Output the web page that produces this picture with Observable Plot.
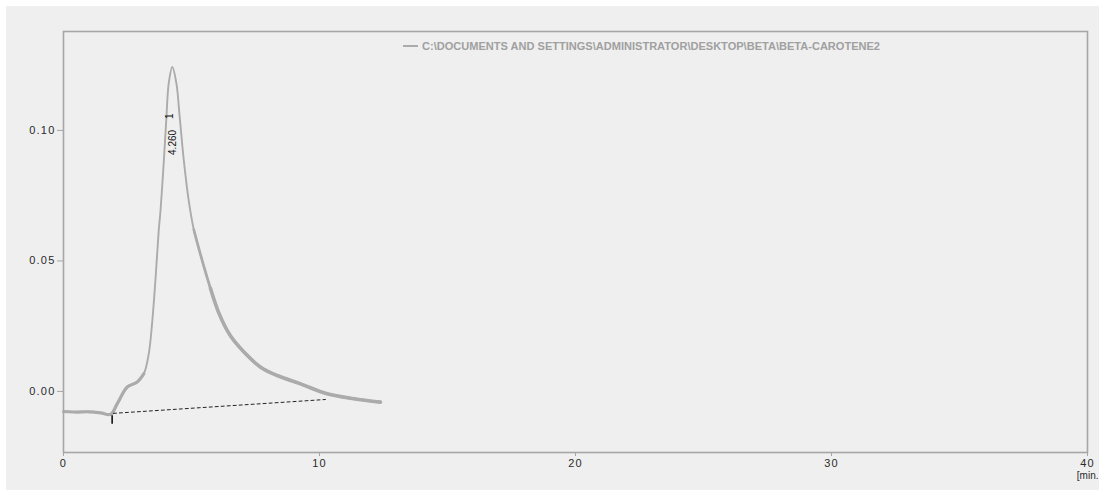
<!DOCTYPE html>
<html>
<head>
<meta charset="utf-8">
<script src="https://cdn.jsdelivr.net/npm/d3@7"></script>
<script src="https://cdn.jsdelivr.net/npm/@observablehq/plot@0.6"></script>
<style>
  html, body { margin: 0; padding: 0; background: #ffffff; }
  #chart svg { display: block; font-family: "Liberation Sans", Arial, sans-serif; }
</style>
</head>
<body>
<div id="chart"></div>
<script>
// Chromatogram trace (time in min, absorbance)
const time = [0, 0.5, 1.0, 1.45, 1.84, 2.1, 2.49, 2.88, 3.14, 3.33, 3.46, 3.59, 3.72, 3.79, 3.92, 4.02, 4.11, 4.25, 4.41, 4.54, 4.70, 4.89, 5.09, 5.35, 5.74, 6.07, 6.52, 7.04, 7.70, 8.35, 9.26, 10.3, 11.34, 12.38];
const absorbance = [-0.0077, -0.0079, -0.0078, -0.0082, -0.0088, -0.0047, 0.0017, 0.0036, 0.0068, 0.0144, 0.026, 0.0425, 0.0617, 0.0693, 0.0885, 0.105, 0.118, 0.1243, 0.118, 0.105, 0.0885, 0.0732, 0.0620, 0.0525, 0.0395, 0.0300, 0.0213, 0.0152, 0.0093, 0.0061, 0.0029, -0.0009, -0.0028, -0.0041];

// Integration baseline
const baselineTime = [1.95, 10.23];
const baselineValue = [-0.0084, -0.0031];

// Peak annotation
const peakTime = [4.26];
const peakLabel = ["4.260"];
const peakNumber = ["1"];

// Axis ticks
const xTicks = [0, 10, 20, 30, 40];
const yTicks = [0, 0.05, 0.10];
const legendText = "C:\\DOCUMENTS AND SETTINGS\\ADMINISTRATOR\\DESKTOP\\BETA\\BETA-CAROTENE2";
const xUnit = "[min.";

const trace = time.map((t, i) => ({t, a: absorbance[i]}));
const baseline = baselineTime.map((t, i) => ({t, a: baselineValue[i]}));

const traceColor = "#ababab";

const chart = Plot.plot({
  width: 1099,
  height: 490,
  marginLeft: 63,
  marginRight: 12,
  marginTop: 31,
  marginBottom: 38,
  style: {background: "transparent", fontFamily: "Liberation Sans, Arial, sans-serif", fontSize: "11px"},
  x: {domain: [0, 40]},
  y: {domain: [-0.0234, 0.1379]},
  marks: [
    Plot.frame({stroke: "#a6a6a6", strokeWidth: 1.6}),
    Plot.axisX({ticks: xTicks, tickSize: 4, tickPadding: 3, label: null, stroke: "#a6a6a6", fill: "#2a2a2a"}),
    Plot.axisY({ticks: yTicks, tickFormat: d3.format(".2f"), tickSize: 6, tickPadding: 2, label: null, stroke: "#a6a6a6", fill: "#2a2a2a"}),
    Plot.text([xUnit], {frameAnchor: "bottom-right", dx: 11, dy: 26, textAnchor: "end", fill: "#2a2a2a", fontSize: 10}),
    Plot.line(trace, {x: "t", y: "a", stroke: traceColor, strokeWidth: 1.9, curve: "catmull-rom"}),
    Plot.line(trace.filter(d => d.t >= 5.09), {x: "t", y: "a", stroke: traceColor, strokeWidth: 2.7, curve: "catmull-rom"}),
    Plot.line(trace.filter(d => d.t >= 5.74), {x: "t", y: "a", stroke: traceColor, strokeWidth: 3.6, curve: "catmull-rom"}),
    Plot.line(trace.filter(d => d.t <= 3.14), {x: "t", y: "a", stroke: traceColor, strokeWidth: 3.2, curve: "catmull-rom"}),
    Plot.line(baseline, {x: "t", y: "a", stroke: "#222", strokeWidth: 1, strokeDasharray: "3,3"}),
    Plot.ruleX([baselineTime[0] - 0.05], {y1: -0.0093, y2: -0.0126, stroke: "#111", strokeWidth: 1.6}),
    Plot.text(peakLabel, {x: peakTime, y: [0.0954], rotate: -90, fill: "#111", fontSize: 10}),
    Plot.text(peakNumber, {x: [peakTime[0] - 0.12], y: [0.1054], rotate: -90, fill: "#111", fontSize: 10})
  ]
});

const svg = d3.select(chart);
// gray panel background
svg.insert("rect", ":first-child")
  .attr("x", 6).attr("y", 6).attr("width", 1093).attr("height", 484)
  .attr("fill", "#efefef");
// widen tick labels a bit
svg.selectAll("g[aria-label='y-axis tick label'] text, g[aria-label='x-axis tick label'] text")
  .style("letter-spacing", "1.2px");
// legend
const lg = svg.append("g").attr("aria-label", "legend");
lg.append("line").attr("x1", 403).attr("x2", 418).attr("y1", 46).attr("y2", 46)
  .attr("stroke", traceColor).attr("stroke-width", 2);
lg.append("text").attr("x", 422).attr("y", 49.5)
  .attr("text-anchor", "start")
  .attr("fill", "#a0a0a0").attr("font-size", 10).attr("font-weight", "bold")
  .attr("textLength", 458).attr("lengthAdjust", "spacingAndGlyphs")
  .text(legendText);

document.getElementById("chart").appendChild(chart);
</script>
</body>
</html>
